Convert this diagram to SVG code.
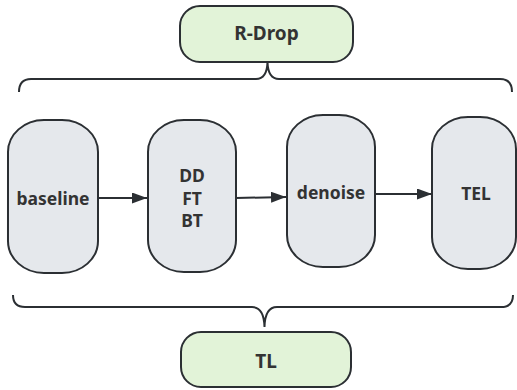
<svg xmlns="http://www.w3.org/2000/svg" width="517" height="390" viewBox="0 0 517 390">
  <defs>
    <marker id="arrow" markerWidth="16" markerHeight="11" refX="15" refY="5.5" orient="auto" markerUnits="userSpaceOnUse">
      <path d="M0,0 L15,5.5 L0,11 Z" fill="#2b2f33"/>
    </marker>
  </defs>
  <style>
    .tag { fill: #e2f3d8; stroke: #2b2f33; stroke-width: 2; }
    .step { fill: #e5e8ec; stroke: #2b2f33; stroke-width: 2; }
    .brace { fill: none; stroke: #2b2f33; stroke-width: 2; }
    .link { fill: none; stroke: #2b2f33; stroke-width: 2; marker-end: url(#arrow); }
    text { font-family: "Noto Sans", "Open Sans", "DejaVu Sans", sans-serif; font-weight: bold; fill: #333333; text-anchor: middle; dominant-baseline: central; }
    .big { font-size: 19px; }
    .lbl { font-size: 17.5px; }
  </style>

  <!-- top label -->
  <g id="rdrop">
    <rect class="tag" x="180" y="6" width="173" height="56" rx="20" ry="20"/>
    <text class="big" x="266.5" y="33">R-Drop</text>
  </g>

  <!-- bottom label -->
  <g id="tl">
    <rect class="tag" x="181" y="332" width="170" height="55" rx="20" ry="20"/>
    <text class="big" x="266" y="361">TL</text>
  </g>

  <!-- pipeline steps -->
  <g id="baseline">
    <rect class="step" x="8" y="120" width="90" height="153" rx="36" ry="32"/>
    <text class="lbl" x="53" y="198">baseline</text>
  </g>
  <g id="ddftbt">
    <rect class="step" x="148" y="120" width="88" height="152" rx="36" ry="32"/>
    <text class="lbl" x="192" y="175">DD</text>
    <text class="lbl" x="192" y="198">FT</text>
    <text class="lbl" x="192" y="220">BT</text>
  </g>
  <g id="denoise">
    <rect class="step" x="287" y="115" width="88" height="152" rx="36" ry="32"/>
    <text class="lbl" x="331" y="192">denoise</text>
  </g>
  <g id="tel">
    <rect class="step" x="432" y="117" width="84" height="152" rx="36" ry="32"/>
    <text class="lbl" x="476" y="193">TEL</text>
  </g>

  <!-- connectors and braces -->
  <g id="connectors">
    <path class="link" d="M98,198 L147,198"/>
    <path class="link" d="M236,198 L286,197"/>
    <path class="link" d="M375,194 L432,194"/>
    <path class="brace" d="M19,92 Q19,79 31,79 L256,79 Q267,79 267.5,62 Q268,79 279,79 L500,79 Q512,79 512,92"/>
    <path class="brace" d="M13,295 Q13,307 25,307 L252,307 Q264,307 264.5,327 Q265,307 277,307 L501,307 Q513,307 513,295"/>
  </g>
</svg>
